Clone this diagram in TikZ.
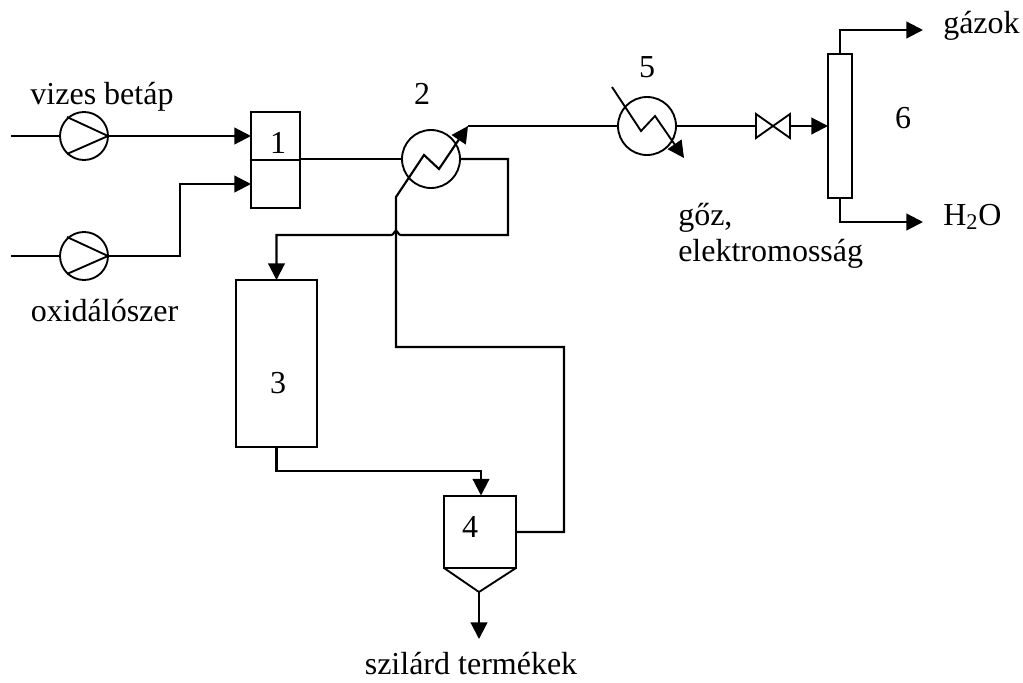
\documentclass[tikz,border=0pt]{standalone}
\usepackage{fontspec}
\setmainfont{Liberation Serif}
\usetikzlibrary{arrows.meta}
\tikzset{
  pipe/.style={line width=1.6pt},
  flow/.style={pipe,-{Triangle[length=12.5pt,width=12.5pt]}},
  thin pipe/.style={line width=1.4pt},
  unit/.style={draw,line width=1.4pt,inner sep=0pt,outer sep=0pt,rectangle},
  exch/.style={draw,line width=1.4pt,circle,inner sep=0pt,outer sep=0pt,minimum size=58*0.75pt},
  pumpc/.style={draw,line width=1.4pt,circle,inner sep=0pt,outer sep=0pt,minimum size=48*0.75pt},
  lbl/.style={inner sep=0pt,anchor=base,font=\fontsize{24}{28}\selectfont}
}
\begin{document}
\begin{tikzpicture}[x=0.75pt,y=-0.75pt]
\useasboundingbox[fill=white] (0,0) rectangle (1023,682);
% units
\node[pumpc] (p1) at (84,136) {};
\node[pumpc] (p2) at (84,256) {};
\node[unit,minimum width=49*0.75pt,minimum height=96*0.75pt] (b1) at (275.5,160) {};
\node[exch] (h2) at (431,159) {};
\node[exch] (h5) at (647,126) {};
\node[unit,minimum width=34*0.75pt,minimum height=24*0.75pt,draw=none] (v) at (773,126) {};
\node[unit,minimum width=24*0.75pt,minimum height=144*0.75pt] (c6) at (840,126) {};
\node[unit,minimum width=81*0.75pt,minimum height=167*0.75pt] (b3) at (276.5,363.5) {};
\node[unit,minimum width=72*0.75pt,minimum height=72*0.75pt] (b4) at (480,532) {};
% free ends
\coordinate (in1) at (11,136);
\coordinate (in2) at (11,256);
\coordinate (b1a) at (251,136);
\coordinate (b1b) at (251,184);
\coordinate (b1c) at (300,159);
\coordinate (apex) at (479,592);
\coordinate (outS) at (479,639);
\coordinate (outG) at (923,30);
\coordinate (outW) at (923,222);
\coordinate (h2s) at (396,197);
\coordinate (h2a) at (424,155);
\coordinate (h2b) at (439,169);
\coordinate (h2t) at (468,126);
\coordinate (h5s) at (612,87);
\coordinate (h5a) at (641,131);
\coordinate (h5b) at (655,116);
\coordinate (h5t) at (684,158);
% pump details
\draw[thin pipe,line join=miter] (67,117) -- (p1.east) -- (67,154);
\draw[thin pipe,line join=miter] (67,237) -- (p2.east) -- (67,274);
% box 1 divider
\draw[thin pipe] (b1.west) -- (b1.east);
% hopper
\draw[unit] (b4.south west) -- (apex) -- (b4.south east);
% valve
\draw[unit,line join=miter] (v.north west) -- (v.south east) -- (v.north east) -- (v.south west) -- cycle;
% connectors
\draw[pipe] (in1) -- (p1.west);
\draw[pipe] (in2) -- (p2.west);
\draw[flow] (p1.east) -- (b1a);
\draw[flow] (p2.east) -- (180,256) -- (180,184) -- (b1b);
\draw[pipe] (b1c) -- (h2.west);
\draw[flow] (h2.east) -- (508,159) -- (508,235) -- (401,235)
  .. controls (398,235) and (398,231) .. (396,231)
  .. controls (394,231) and (394,235) .. (391,235)
  -- (276.5,235) -- (b3.north);
\draw[flow,line join=miter] (b4.east) -- (564,532) -- (564,347) -- (396,347) -- (h2s) -- (h2a) -- (h2b) -- (h2t);
\draw[pipe] (h2t) -- (h5.west);
\draw[flow,line join=miter,line width=1.4pt] (h5s) -- (h5a) -- (h5b) -- (h5t);
\draw[pipe] (h5.east) -- (v.west);
\draw[flow] (v.east) -- (c6.west);
\draw[flow] (c6.north) -- (840,30) -- (outG);
\draw[flow] (c6.south) -- (840,222) -- (outW);
\draw[flow] (b3.south) -- (276.5,471) -- (481,471) -- (481,495.5);
\draw[flow] (apex) -- (outS);
% labels
\node[lbl] (l1) at (278,153) {1};
\node[lbl] (l2) at (422,104) {2};
\node[lbl] (l3) at (278,393) {3};
\node[lbl] (l4) at (470,537) {4};
\node[lbl] (l5) at (647,77) {5};
\node[lbl] (l6) at (903,128) {6};
\node[lbl] (t1) at (102,104) {vizes betáp};
\node[lbl] (t2) at (104.5,321) {oxidálószer};
\node[lbl,anchor=base west] (t3) at (943,33) {gázok};
\node[lbl,anchor=base west] (t4) at (943,225) {H\textsubscript{2}O};
\node[lbl,anchor=base west] (t5) at (678,225) {gőz,};
\node[lbl,anchor=base west] (t6) at (678,261) {elektromosság};
\node[lbl] (t7) at (471,674) {szilárd termékek};
\end{tikzpicture}
\end{document}
